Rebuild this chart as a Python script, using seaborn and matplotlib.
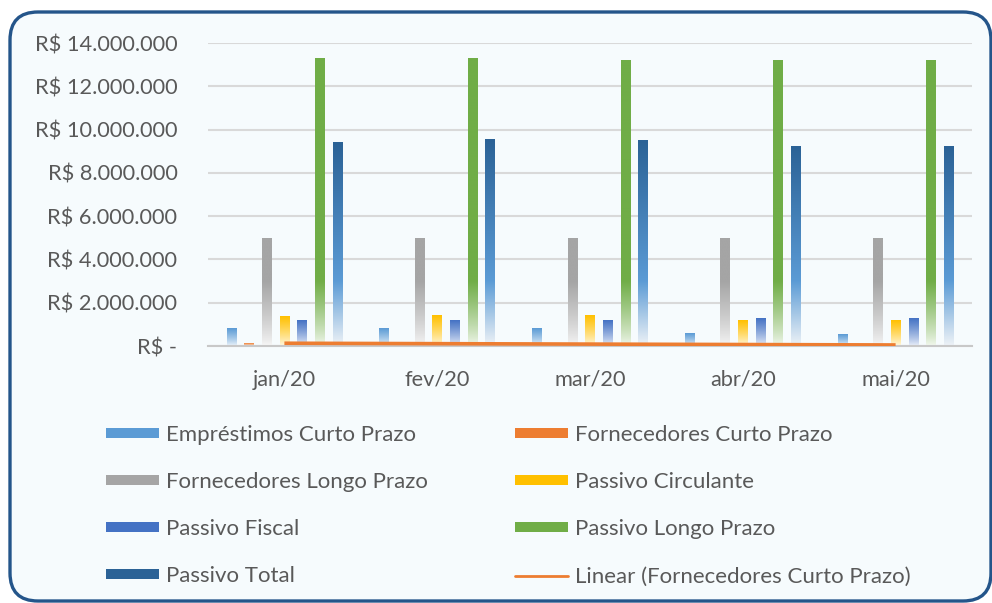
import numpy as np
import pandas as pd
import matplotlib
matplotlib.use("Agg")
import matplotlib.pyplot as plt
from matplotlib.colors import to_rgb
from matplotlib.patches import FancyBboxPatch, Patch
from matplotlib.lines import Line2D
import seaborn as sns

sns.set_theme(style="white")
plt.rcParams["font.family"] = ["Lato", "DejaVu Sans"]

# dados (R$)
meses = ["jan/20", "fev/20", "mar/20", "abr/20", "mai/20"]
series = ["Empréstimos Curto Prazo", "Fornecedores Curto Prazo", "Fornecedores Longo Prazo",
          "Passivo Circulante", "Passivo Fiscal", "Passivo Longo Prazo", "Passivo Total"]
emprestimos_cp = [790000, 790000, 790000, 600000, 510000]
fornecedores_cp = [100000, 130000, 120000, 50000, 40000]
fornecedores_lp = [4960000, 4960000, 4960000, 4960000, 4960000]
passivo_circ = [1340000, 1390000, 1390000, 1160000, 1160000]
passivo_fiscal = [1160000, 1200000, 1200000, 1250000, 1250000]
passivo_lp = [13300000, 13300000, 13210000, 13210000, 13210000]
passivo_total = [9410000, 9550000, 9500000, 9230000, 9230000]
yticks_lbl = ["R$ -", "R$ 2.000.000", "R$ 4.000.000", "R$ 6.000.000", "R$ 8.000.000",
              "R$ 10.000.000", "R$ 12.000.000", "R$ 14.000.000"]

cores = ["#5B9BD5", "#ED7D31", "#A5A5A5", "#FFC000", "#4472C4", "#70AD47", "#2B6296"]
txt = "#595959"

wide = pd.DataFrame({
    "Mes": meses,
    series[0]: emprestimos_cp, series[1]: fornecedores_cp, series[2]: fornecedores_lp,
    series[3]: passivo_circ, series[4]: passivo_fiscal, series[5]: passivo_lp,
    series[6]: passivo_total,
})
df = wide.melt(id_vars="Mes", var_name="Serie", value_name="Valor")

fig = plt.figure(figsize=(9.92, 6.03), dpi=100, facecolor="white")
frame = FancyBboxPatch((0.10, 0.02), 9.81, 5.89, boxstyle="round,pad=0,rounding_size=0.28",
                       transform=fig.dpi_scale_trans, facecolor="#F6FBFD",
                       edgecolor="#24558A", lw=2.4, zorder=-1)
fig.patches.append(frame)

ax = fig.add_axes([208 / 992, 1 - 346 / 603, 764 / 992, 303 / 603])
ax.set_facecolor("none")

sns.barplot(data=df, x="Mes", y="Valor", hue="Serie", hue_order=series, order=meses,
            palette=cores, width=0.81, gap=0.46, errorbar=None, legend=False, ax=ax)

ax.set_ylim(0, 14e6)
ax.set_xlim(-0.5, 4.5)

# gradiente estilo Excel (cor em cima, clareando embaixo)
fade = 3.0e6
for cont, cor in zip(ax.containers, cores):
    base = np.array(to_rgb(cor))
    light = base * 0.08 + np.ones(3) * 0.92
    for bar in cont:
        h = bar.get_height()
        if h <= 0:
            continue
        x0, w = bar.get_x(), bar.get_width()
        ys = np.linspace(0, h, 300)
        t = np.clip(ys / min(h, fade), 0, 1)[:, None]
        if cor == "#2B6296":
            mid = np.array(to_rgb("#5B9BD5"))
            col = light * (1 - t) + mid * t
            up = np.clip((ys - fade) / (h - fade), 0, 1)[:, None]
            col = col * (1 - up) + base * up
        else:
            t = t ** 0.8
            col = light * (1 - t) + base * t
        img = np.repeat(col[:, None, :], 2, axis=1)
        ax.imshow(img, extent=[x0, x0 + w, 0, h], origin="lower", aspect="auto", zorder=2)
        bar.set_visible(False)

# linha de tendencia linear (Fornecedores Curto Prazo)
xs = np.arange(len(meses))
coef = np.polyfit(xs, fornecedores_cp, 1)
ax.plot(xs, np.polyval(coef, xs), color="#ED7D31", lw=2.6, zorder=4, solid_capstyle="butt")

ax.set_xlim(-0.5, 4.5)
ax.set_ylim(0, 14e6)
ax.set_yticks(np.arange(0, 14.1e6, 2e6))
ax.set_yticklabels(yticks_lbl)
ax.yaxis.grid(True, color="#D9D9D9", lw=1.5)
ax.set_axisbelow(True)
ax.set_xlabel("")
ax.set_ylabel("")
for s in ["top", "right", "left"]:
    ax.spines[s].set_visible(False)
ax.spines["bottom"].set_color("#C8C8C8")
ax.spines["bottom"].set_linewidth(1.5)
ax.set_xticks(np.arange(-0.5, 4.6, 1), minor=True)
ax.tick_params(axis="x", which="minor", length=6, width=1.5, color="#C8C8C8", direction="out")
ax.tick_params(axis="x", which="major", length=0, pad=17, labelsize=15.7, labelcolor=txt)
ax.tick_params(axis="y", length=0, pad=22, labelsize=15.7, labelcolor=txt)

# legenda
h = [Patch(facecolor=c, edgecolor="none") for c in cores]
h.append(Line2D([0], [0], color="#ED7D31", lw=2))
labels = series + ["Linear (Fornecedores Curto Prazo)"]
order = [0, 2, 4, 6, 1, 3, 5, 7]
fig.legend([h[i] for i in order], [labels[i] for i in order], ncol=2,
           loc="upper left", bbox_to_anchor=(95 / 992, 1 - 414 / 603), frameon=False,
           fontsize=16, labelcolor=txt, handlelength=2.4, handleheight=0.32,
           handletextpad=0.3, labelspacing=1.22, columnspacing=3.9, borderpad=0)

fig.savefig("out.png", dpi=100, facecolor="white")
